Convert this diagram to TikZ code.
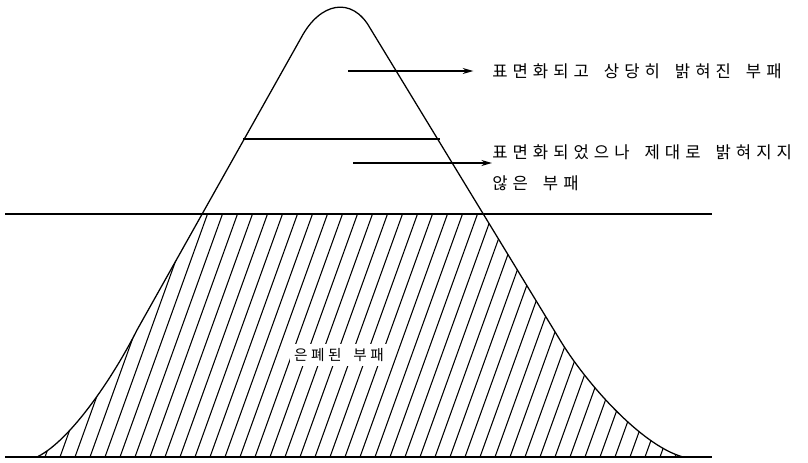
\documentclass[tikz,border=0pt]{standalone}
\usepackage{fontspec}
\usetikzlibrary{arrows.meta}
\newfontfamily\kolab[LetterSpace=30]{Noto Sans CJK KR}
\newfontfamily\kolabs[LetterSpace=24]{Noto Sans CJK KR}
\def\icebergpath{(37,457) .. controls (72,440) and (116,372) .. (137,330) -- (301,38) .. controls (320,2) and (352,-4) .. (370,28) -- (560,340) .. controls (584,380) and (640,445) .. (683,457)}
\tikzset{
  outline/.style={line width=0.95pt, line join=round},
  hatchline/.style={line width=0.8pt},
  pointer/.style={line width=0.95pt, -{Stealth[length=8pt,width=4.5pt]}},
  label/.style={inner sep=0pt, anchor=west, font=\kolab\fontsize{12.5pt}{14pt}\selectfont},
}
\begin{document}
\begin{tikzpicture}[x=0.75pt,y=-0.75pt]
\path[use as bounding box, fill=white] (0,0) rectangle (808,463);
% hatching of the hidden part
\begin{scope}
  \clip \icebergpath -- cycle;
  \clip (0,214) rectangle (808,457);
  \foreach \x in {-90,-75,...,700} \draw[hatchline] (\x,457) -- ++(87.5,-243);
\end{scope}
% iceberg outline
\draw[outline] \icebergpath;
% water line and ground line
\coordinate (wl) at (5,214);
\coordinate (wr) at (712,214);
\coordinate (gl) at (5,457);
\coordinate (gr) at (712,457);
\draw[outline] (wl) -- (wr);
\draw[outline] (gl) -- (gr);
% upper division line
\coordinate (dl) at (243,139);
\coordinate (dr) at (440,139);
\draw[outline] (dl) -- (dr);
% labels
\node[label] (t1) at (492,71) {표면화되고\hspace{0.9em}상당히\hspace{0.9em}밝혀진\hspace{0.9em}부패};
\node[label] (t2) at (492,152) {표면화되었으나\hspace{0.9em}제대로\hspace{0.9em}밝혀지지};
\node[label] (t3) at (492,183) {않은\hspace{0.9em}부패};
\node[inner sep=3pt, fill=white, font=\kolabs\fontsize{11pt}{12pt}\selectfont] (t4) at (339,355) {은폐된\hspace{0.8em}부패};
% arrows
\coordinate (a1) at (348,71);
\coordinate (a2) at (353,163);
\draw[pointer] (a1) -- ([xshift=-14pt]t1.west);
\draw[pointer] (a2) -- (t2.west |- a2);
\end{tikzpicture}
\end{document}
